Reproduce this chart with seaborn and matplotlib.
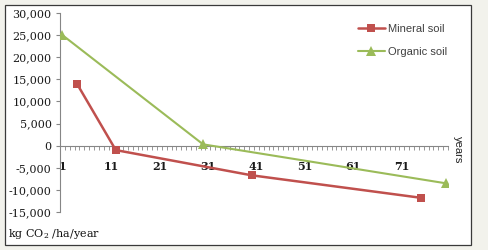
import matplotlib
matplotlib.use("Agg")
import matplotlib.pyplot as plt
import seaborn as sns
import pandas as pd
from matplotlib.patches import Rectangle
from matplotlib.ticker import FuncFormatter, FixedLocator

# Data
mineral_years = [4, 12, 40, 75]
mineral_values = [14000, -1000, -6700, -11800]
organic_years = [1, 30, 80]
organic_values = [25000, 300, -8500]
series_names = ["Mineral soil", "Organic soil"]
x_tick_labels = [1, 11, 21, 31, 41, 51, 61, 71]
y_ticks = list(range(-15000, 30001, 5000))

df = pd.concat([
    pd.DataFrame({"year": mineral_years, "value": mineral_values, "series": series_names[0]}),
    pd.DataFrame({"year": organic_years, "value": organic_values, "series": series_names[1]}),
])

sns.set_style("white")
plt.rcParams["mathtext.fontset"] = "dejavuserif"

fig = plt.figure(figsize=(4.89, 2.5), dpi=100, facecolor="#f2f2ec")
fig.patches.append(Rectangle((5 / 489, 5 / 250), 466 / 489, 240 / 250, transform=fig.transFigure,
                             facecolor="white", edgecolor="#3a3a3a", linewidth=0.9, zorder=-10))
ax = fig.add_axes([60 / 489, (250 - 212) / 250, (448 - 60) / 489, (212 - 13) / 250])
ax.set_facecolor("none")

colors = {"Mineral soil": "#c0504d", "Organic soil": "#9bbb59"}
sns.lineplot(data=df[df.series == "Mineral soil"], x="year", y="value", ax=ax, color=colors["Mineral soil"],
             marker="s", markersize=6, markeredgewidth=0, linewidth=1.8, label="Mineral soil", zorder=3)
sns.lineplot(data=df[df.series == "Organic soil"], x="year", y="value", ax=ax, color=colors["Organic soil"],
             marker="^", markersize=7, markeredgewidth=0, linewidth=1.5, label="Organic soil", zorder=3)

ax.set_xlim(0.5, 80.5)
ax.set_ylim(-15000, 30000)
ax.set_xlabel("")
ax.set_ylabel("")

for s in ["top", "right"]:
    ax.spines[s].set_visible(False)
ax.spines["left"].set_color("#868686")
ax.spines["left"].set_linewidth(0.8)
ax.spines["bottom"].set_position(("data", 0))
ax.spines["bottom"].set_color("#868686")
ax.spines["bottom"].set_linewidth(0.8)

ax.yaxis.set_major_locator(FixedLocator(y_ticks))
ax.yaxis.set_major_formatter(FuncFormatter(lambda v, p: f"{int(v):,}"))
ax.tick_params(axis="y", which="major", left=True, direction="out", length=3, color="#868686",
               labelsize=8, pad=3, labelcolor="#1a1a1a")

ax.xaxis.set_major_locator(FixedLocator(x_tick_labels))
ax.xaxis.set_minor_locator(FixedLocator([i + 0.5 for i in range(0, 81)]))
ax.tick_params(axis="x", which="major", bottom=True, length=0, labelsize=8, pad=11, labelcolor="#1a1a1a")
ax.tick_params(axis="x", which="minor", bottom=True, direction="out", length=3, color="#868686", width=0.6)
for lbl in ax.get_xticklabels() + ax.get_yticklabels():
    lbl.set_family("DejaVu Serif")
for lbl in ax.get_xticklabels():
    lbl.set_fontweight("bold")

leg = ax.legend(loc="upper right", bbox_to_anchor=(1.015, 0.98), frameon=False,
                handlelength=2.4, labelspacing=1.2, handletextpad=0.3, borderaxespad=0.2,
                prop={"family": "Liberation Sans", "size": 8})
for t in leg.get_texts():
    t.set_color("#404040")

fig.text(458 / 489, 1 - 150 / 250, "years", rotation=270, ha="center", va="center",
         fontsize=8, family="Liberation Sans", color="#222222")
fig.text(8 / 489, 1 - 234 / 250, "kg CO$_2$ /ha/year", ha="left", va="center",
         fontsize=8, family="DejaVu Serif", color="#111111")

fig.savefig("out.png", dpi=100, facecolor=fig.get_facecolor())
